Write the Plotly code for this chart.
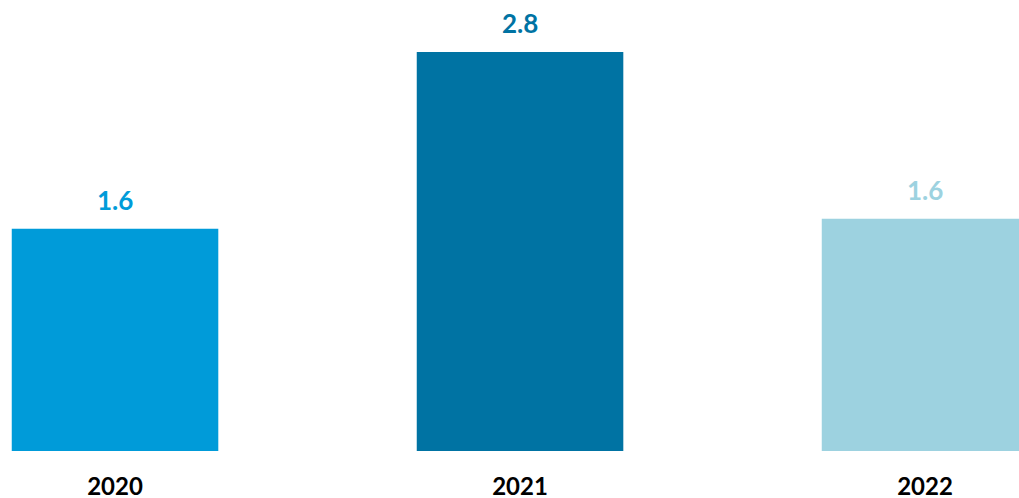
import plotly.graph_objects as go

years = ["2020", "2021", "2022"]
values = [1.56, 2.8, 1.63]
colors = ["#009bd9", "#0073a3", "#9dd2e0"]

fig = go.Figure()

fig.add_trace(go.Bar(
    x=years,
    y=values,
    marker=dict(color=colors, line=dict(width=0)),
    width=0.51,
    showlegend=False,
    hoverinfo="skip"))

# value labels above the bars, in the bar colour
for i, (v, c) in enumerate(zip(values, colors)):
    fig.add_annotation(
        x=i, y=v, xref="x", yref="y", text="<b>%.1f</b>" % v,
        showarrow=False, yanchor="bottom", yshift=11,
        font=dict(family="Lato", size=26, color=c))

fig.update_layout(
    width=1019, height=498,
    margin=dict(l=0, r=0, t=0, b=47),
    paper_bgcolor="white", plot_bgcolor="white",
    bargap=0.49)

fig.update_xaxes(
    type="category",
    range=[-0.284, 2.232],
    showgrid=False, zeroline=False, showline=False,
    ticks="outside", ticklen=14, tickcolor="rgba(0,0,0,0)",
    tickfont=dict(family="Lato", size=24, color="black", weight="bold"),
    automargin=False)

fig.update_yaxes(
    range=[0, 3.165],
    showticklabels=False, showgrid=False, zeroline=False, showline=False)

# drop the default 8px page margin so the chart fills the window
fig.write_html("out.html", config={"displayModeBar": False},
               post_script="document.body.style.margin='0';")
